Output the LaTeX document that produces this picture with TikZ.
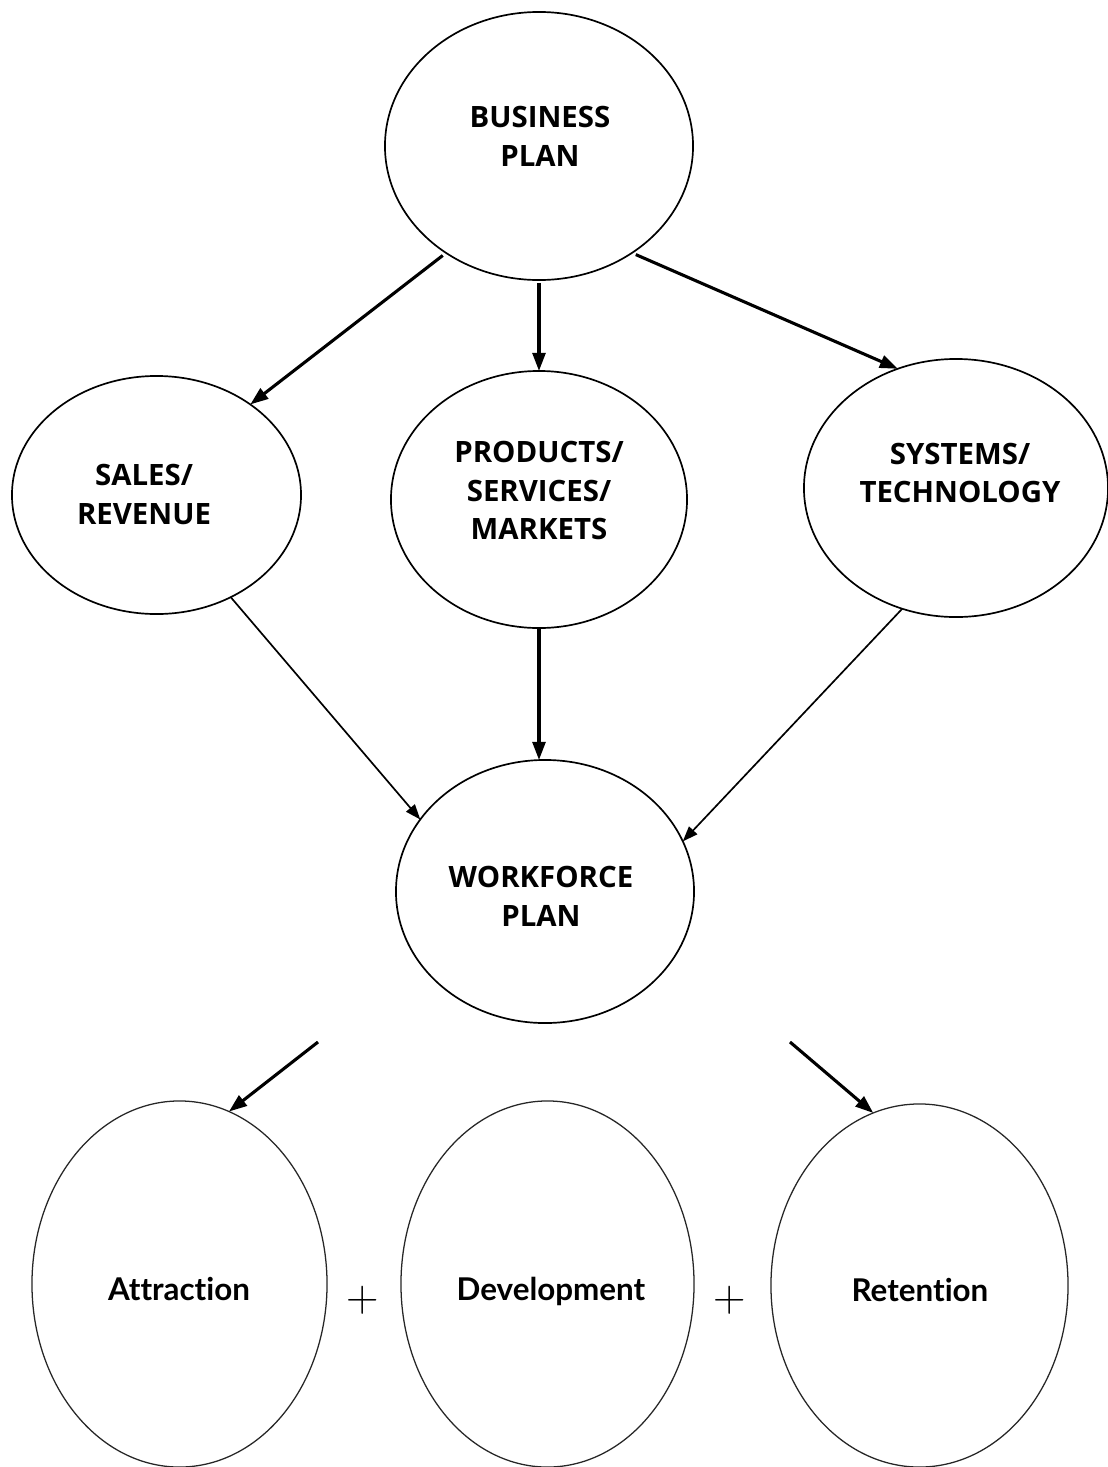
\documentclass[tikz,border=0pt]{standalone}
\usepackage{fontspec}
\usetikzlibrary{arrows.meta,shapes.geometric}
\newfontfamily\capsfont{Open Sans}
\newfontfamily\wordfont{Lato}[Ligatures={NoCommon}]

\begin{document}
\begin{tikzpicture}[x=0.025cm, y=-0.025cm,
  oval/.style={ellipse, draw=black, line width=1.2pt, inner sep=0pt, outer sep=0pt},
  softoval/.style={ellipse, draw=black!85, line width=0.9pt, inner sep=0pt, outer sep=0pt},
  captext/.style={inner sep=0pt, align=center,
    font=\capsfont\bfseries\fontsize{20.9}{27.7}\selectfont},
  wordtext/.style={inner sep=0pt, anchor=base,
    font=\wordfont\bfseries\fontsize{22.3}{26}\selectfont},
  plustext/.style={inner sep=0pt, font=\fontsize{32}{32}\selectfont},
  heavyarrow/.style={line width=2.2pt, -{Triangle[length=0.45cm, width=0.32cm]}},
  lightarrow/.style={line width=1.2pt, -{Triangle[length=0.38cm, width=0.28cm]}}
]
% page
\fill[white] (0,0) rectangle (1108,1467);
\useasboundingbox (0,0) rectangle (1108,1467);

% planning ovals
\node[oval, minimum width=7.7cm,   minimum height=6.7cm]   (bp) at (539,146) {};
\node[oval, minimum width=7.225cm, minimum height=5.95cm]  (sr) at (156.5,495) {};
\node[oval, minimum width=7.4cm,   minimum height=6.425cm] (pr) at (539,499.5) {};
\node[oval, minimum width=7.6cm,   minimum height=6.45cm]  (sy) at (956,488) {};
\node[oval, minimum width=7.45cm,  minimum height=6.575cm] (wf) at (545,891.5) {};

\node[captext] (bpt) at (540,136.5) {BUSINESS\\PLAN};
\node[captext] (srt) at (144,494.5) {SALES/\\REVENUE};
\node[captext] (prt) at (539,490.5) {PRODUCTS/\\SERVICES/\\MARKETS};
\node[captext] (syt) at (960,473)   {SYSTEMS/\\TECHNOLOGY};
\node[captext] (wft) at (541,896.5) {WORKFORCE\\PLAN};

% people ovals
\node[softoval, minimum width=7.375cm, minimum height=9.15cm]  (at) at (179.5,1284) {};
\node[softoval, minimum width=7.325cm, minimum height=9.15cm]  (dv) at (547.5,1284) {};
\node[softoval, minimum width=7.425cm, minimum height=9.075cm] (rt) at (919.5,1285.5) {};

\node[wordtext] (att) at (179,1300) {Attraction};
\node[wordtext] (dvt) at (551,1300) {Development};
\node[wordtext] (rtt) at (920,1301) {Retention};

\node[plustext] (p1) at (363,1300) {+};
\node[plustext] (p2) at (730,1300) {+};

% connectors
\draw[heavyarrow, shorten <=3pt] (bp.229.4) -- (sr.44.1);
\draw[heavyarrow, shorten <=2pt] (bp.south) -- (pr.north);
\draw[heavyarrow, shorten <=3pt] (bp.311.5) -- (sy.116.6);

\draw[lightarrow] (sr.306.2) -- (wf.150.2);
\draw[heavyarrow] (pr.south) -- (pr.south |- wf.north);
\draw[lightarrow] (sy.246.4) -- (wf.20.5);

\coordinate (as) at (318,1042);
\coordinate (rs) at (790,1042);
\draw[heavyarrow] (as) -- (at.74.4);
\draw[heavyarrow] (rs) -- (rt.105.4);
\end{tikzpicture}
\end{document}
